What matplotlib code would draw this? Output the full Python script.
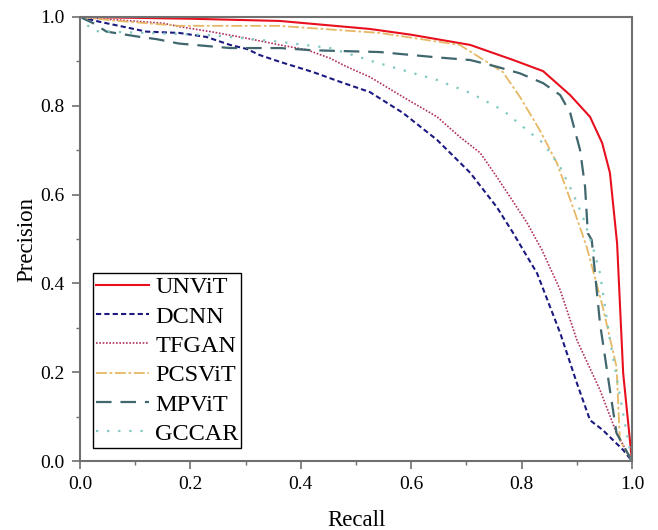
import matplotlib
matplotlib.use("Agg")
import matplotlib.pyplot as plt
from matplotlib.ticker import MultipleLocator

plt.rcParams['font.family'] = ['Liberation Serif', 'DejaVu Serif']

names = ["UNViT", "DCNN", "TFGAN", "PCSViT", "MPViT", "GCCAR"]

unvit_r = [0.0, 0.1, 0.2, 0.362, 0.525, 0.6, 0.707, 0.785, 0.839, 0.888, 0.924, 0.946, 0.96, 0.973, 0.984, 1.0]
unvit_p = [1.0, 0.998, 0.996, 0.991, 0.973, 0.96, 0.937, 0.903, 0.878, 0.824, 0.775, 0.716, 0.649, 0.49, 0.198, 0.0]

dcnn_r = [0.0, 0.036, 0.09, 0.12, 0.18, 0.229, 0.272, 0.302, 0.326, 0.362, 0.422, 0.471, 0.513, 0.525, 0.585, 0.647, 0.707, 0.755, 0.785, 0.803, 0.828, 0.87, 0.9, 0.924, 0.947, 0.984, 1.0]
dcnn_p = [1.0, 0.989, 0.975, 0.967, 0.964, 0.955, 0.937, 0.928, 0.914, 0.899, 0.876, 0.854, 0.836, 0.831, 0.784, 0.723, 0.649, 0.572, 0.513, 0.475, 0.423, 0.288, 0.176, 0.092, 0.07, 0.025, 0.0]

tfgan_r = [0.0, 0.05, 0.15, 0.181, 0.241, 0.302, 0.362, 0.411, 0.453, 0.483, 0.525, 0.585, 0.647, 0.688, 0.725, 0.755, 0.779, 0.81, 0.837, 0.87, 0.9, 0.942, 0.972, 1.0]
tfgan_p = [1.0, 0.995, 0.986, 0.978, 0.966, 0.952, 0.937, 0.926, 0.907, 0.888, 0.865, 0.82, 0.775, 0.73, 0.694, 0.64, 0.595, 0.536, 0.475, 0.385, 0.273, 0.16, 0.063, 0.0]

pcsvit_r = [0.0, 0.06, 0.12, 0.18, 0.36, 0.543, 0.688, 0.766, 0.797, 0.833, 0.864, 0.893, 0.918, 0.947, 0.972, 0.978, 1.0]
pcsvit_p = [1.0, 0.992, 0.986, 0.98, 0.98, 0.964, 0.937, 0.876, 0.82, 0.745, 0.671, 0.572, 0.482, 0.347, 0.212, 0.047, 0.0]

mpvit_r = [0.0, 0.024, 0.048, 0.109, 0.139, 0.18, 0.272, 0.362, 0.422, 0.543, 0.647, 0.707, 0.755, 0.797, 0.839, 0.87, 0.888, 0.906, 0.915, 0.92, 0.927, 0.942, 0.96, 0.972, 1.0]
mpvit_p = [1.0, 0.986, 0.967, 0.955, 0.95, 0.94, 0.93, 0.93, 0.925, 0.921, 0.909, 0.903, 0.888, 0.873, 0.851, 0.824, 0.784, 0.7, 0.617, 0.513, 0.498, 0.31, 0.16, 0.063, 0.0]

gccar_r = [0.0, 0.012, 0.03, 0.12, 0.24, 0.362, 0.453, 0.513, 0.53, 0.647, 0.707, 0.766, 0.81, 0.839, 0.87, 0.893, 0.911, 0.929, 0.942, 0.96, 0.987, 1.0]
gccar_p = [1.0, 0.982, 0.968, 0.964, 0.959, 0.944, 0.93, 0.907, 0.9, 0.858, 0.829, 0.79, 0.745, 0.716, 0.662, 0.603, 0.55, 0.482, 0.423, 0.273, 0.086, 0.0]

series = [
    (unvit_r, unvit_p, '#e8101e', '-', 1.5),
    (dcnn_r, dcnn_p, '#1c1a80', (0, (2.5, 1.5)), 1.5),
    (tfgan_r, tfgan_p, '#b03060', (0, (1, 1)), 1.2),
    (pcsvit_r, pcsvit_p, '#e6b865', (0, (6, 1.5, 1.5, 1.5)), 1.3),
    (mpvit_r, mpvit_p, '#40666e', (0, (7, 4)), 1.6),
    (gccar_r, gccar_p, '#7ec8c0', (0, (1, 4)), 1.6),
]

fig = plt.figure(figsize=(6.58, 5.30), dpi=100)
ax = fig.add_axes([0.1216, 0.130, 0.8389, 0.838])

for name, (r, p, c, ls, lw) in zip(names, series):
    ax.plot(r, p, color=c, linestyle=ls, linewidth=lw, label=name)

ax.set_xlim(0, 1)
ax.set_ylim(0, 1)
ax.xaxis.set_major_locator(MultipleLocator(0.2))
ax.xaxis.set_minor_locator(MultipleLocator(0.1))
ax.yaxis.set_major_locator(MultipleLocator(0.2))
ax.yaxis.set_minor_locator(MultipleLocator(0.1))
ax.set_xticklabels([f"{v:.1f}" for v in ax.get_xticks()])
ax.set_yticklabels([f"{v:.1f}" for v in ax.get_yticks()])
ax.tick_params(which='major', direction='out', length=6, width=1.2, color='#707070', labelsize=14, pad=5)
ax.tick_params(which='minor', direction='out', length=3, width=1.0, color='#707070')
for s in ax.spines.values():
    s.set_color('#707070')
    s.set_linewidth(1.5)

ax.set_xlabel("Recall", fontsize=16.5, labelpad=12)
ax.set_ylabel("Precision", fontsize=16.5, labelpad=2)

leg = ax.legend(loc='lower left', bbox_to_anchor=(0.023, 0.03), fontsize=17.5,
                frameon=True, fancybox=False, edgecolor='black', framealpha=1,
                handlelength=2.2, handletextpad=0.25, labelspacing=0.3, borderpad=0.12, borderaxespad=0)
leg.get_frame().set_linewidth(1.0)

fig.savefig("out.png", dpi=100)
